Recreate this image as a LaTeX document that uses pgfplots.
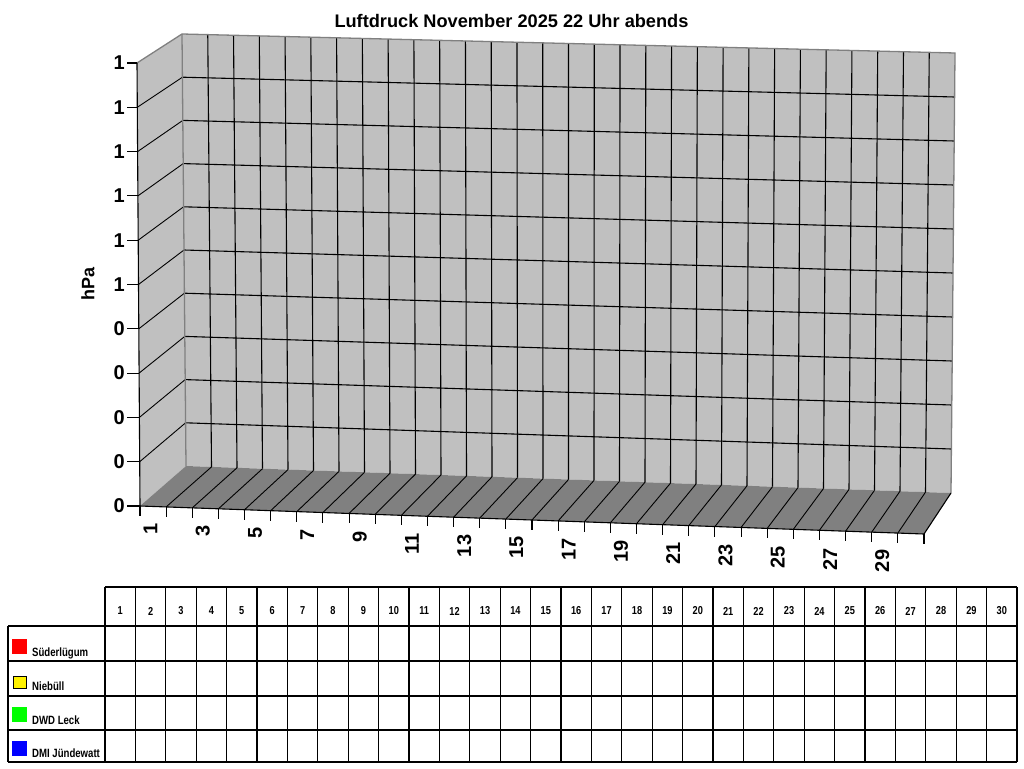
\documentclass[border=0pt]{standalone}
\usepackage{fontspec}
\setmainfont{Liberation Sans}
\newfontfamily\narrow[FakeStretch=0.8]{Liberation Sans}
\usepackage{pgfplots}
\pgfplotsset{compat=1.18}
\definecolor{wall}{HTML}{C0C0C0}
\definecolor{floorc}{HTML}{808080}
\definecolor{edge}{HTML}{808080}
\begin{document}
\begin{tikzpicture}
\begin{axis}[
  width=1024bp, height=768bp, scale only axis,
  xmin=0, xmax=1024, ymin=0, ymax=768, y dir=reverse,
  hide axis, clip=false,
]
% page background (pixel coordinates, y downwards)
\addplot[fill=white, draw=none] coordinates {(0,0) (1024,0) (1024,768) (0,768)};
% back wall, left wall, floor
\addplot[fill=wall, draw=none] coordinates {(182,34) (955,53) (951,493) (186,466)};
\addplot[fill=wall, draw=none] coordinates {(137,63) (182,34) (186,466) (140,506)};
\addplot[fill=floorc, draw=none] coordinates {(140,506) (186,466) (951,493) (924,534)};

% grid on the back wall
\pgfplotsinvokeforeach{1,...,29}{
  \draw[black, line width=1.1bp] (axis cs:{182+25.767*#1},{34+0.633*#1}) -- (axis cs:{186+25.5*#1},{466+0.9*#1});
}
\pgfplotsinvokeforeach{1,...,9}{
  \draw[black, line width=1.1bp] (axis cs:{182+0.4*#1},{34+43.2*#1}) -- (axis cs:{955-0.4*#1},{53+44*#1});
  \draw[black, line width=0.9bp] (axis cs:{137+0.3*#1},{63+44.3*#1}) -- (axis cs:{182+0.4*#1},{34+43.2*#1});
}
% floor lines
\pgfplotsinvokeforeach{1,...,29}{
  \draw[black, line width=0.9bp] (axis cs:{140+26.133*#1},{506+0.933*#1}) -- (axis cs:{186+25.5*#1},{466+0.9*#1});
}
% edges
\draw[edge, line width=1.3bp] (axis cs:137,63) -- (axis cs:182,34) -- (axis cs:955,53) -- (axis cs:951,493);
\draw[edge, line width=1.3bp] (axis cs:182,34) -- (axis cs:186,466);
\draw[black, line width=1.1bp] (axis cs:137,63) -- (axis cs:140,506) -- (axis cs:924,534) -- (axis cs:951,493);

% y ticks and labels
\pgfplotsinvokeforeach{0,...,10}{
  \draw[black, line width=1.1bp] (axis cs:127,{63+44.3*#1}) -- (axis cs:{137+0.3*#1},{63+44.3*#1});
}
\pgfplotsinvokeforeach{0,...,5}{
  \node[anchor=east, inner sep=0pt, font=\bfseries\fontsize{20bp}{22bp}\selectfont]
    at (axis cs:125,{63+44.3*#1}) {1};
}
\pgfplotsinvokeforeach{6,...,10}{
  \node[anchor=east, inner sep=0pt, font=\bfseries\fontsize{20bp}{22bp}\selectfont]
    at (axis cs:125,{63+44.3*#1}) {0};
}
\node[rotate=90, font=\bfseries\fontsize{18bp}{20bp}\selectfont] at (axis cs:88,284) {hPa};

% x ticks and labels
\pgfplotsinvokeforeach{0,...,30}{
  \draw[black, line width=1.1bp] (axis cs:{140+26.133*#1},{506+0.933*#1}) -- (axis cs:{140+26.133*#1},{516+0.933*#1});
}
\pgfplotsinvokeforeach{1,3,...,29}{
  \node[rotate=90, anchor=east, inner sep=0pt, font=\bfseries\fontsize{20bp}{22bp}\selectfont]
    at (axis cs:{137.5+26.133*(#1-0.5)},{523+0.933*(#1-0.5)}) {#1};
}

% title
\node[font=\bfseries\fontsize{18.2bp}{21bp}\selectfont] at (axis cs:511.5,21)
  {Luftdruck November 2025 22 Uhr abends};

% data table below the chart
\draw[black, line width=1.3bp] (axis cs:105,587) -- (axis cs:1017,587);
\pgfplotsinvokeforeach{626,661,696,730,762}{
  \draw[black, line width=1.3bp] (axis cs:8,#1) -- (axis cs:1017,#1);
}
\draw[black, line width=1.3bp] (axis cs:8,626) -- (axis cs:8,762);
\pgfplotsinvokeforeach{0,...,30}{
  \draw[black, line width=1.3bp] (axis cs:{105+30.4*#1},587) -- (axis cs:{105+30.4*#1},762);
}
\pgfplotsinvokeforeach{1,...,30}{
  \node[font=\narrow\bfseries\fontsize{11.5bp}{13bp}\selectfont]
    at (axis cs:{105+30.4*(#1-0.5)},611) {#1};
}
% legend entries
\addplot[fill=red, draw=none] coordinates {(12,639) (27,639) (27,654) (12,654)};
\addplot[fill=yellow, draw=black] coordinates {(13,676) (26,676) (26,688) (13,688) (13,676)};
\addplot[fill=green, draw=none] coordinates {(12,707) (27,707) (27,722) (12,722)};
\addplot[fill=blue, draw=none] coordinates {(12,741) (27,741) (27,756) (12,756)};
\node[anchor=base west, inner sep=0pt, font=\narrow\bfseries\fontsize{12bp}{14bp}\selectfont] at (axis cs:32,656) {Süderlügum};
\node[anchor=base west, inner sep=0pt, font=\narrow\bfseries\fontsize{12bp}{14bp}\selectfont] at (axis cs:32,690) {Niebüll};
\node[anchor=base west, inner sep=0pt, font=\narrow\bfseries\fontsize{12bp}{14bp}\selectfont] at (axis cs:32,724) {DWD Leck};
\node[anchor=base west, inner sep=0pt, font=\narrow\bfseries\fontsize{12bp}{14bp}\selectfont] at (axis cs:32,757) {DMI Jündewatt};
\end{axis}
\end{tikzpicture}
\end{document}
